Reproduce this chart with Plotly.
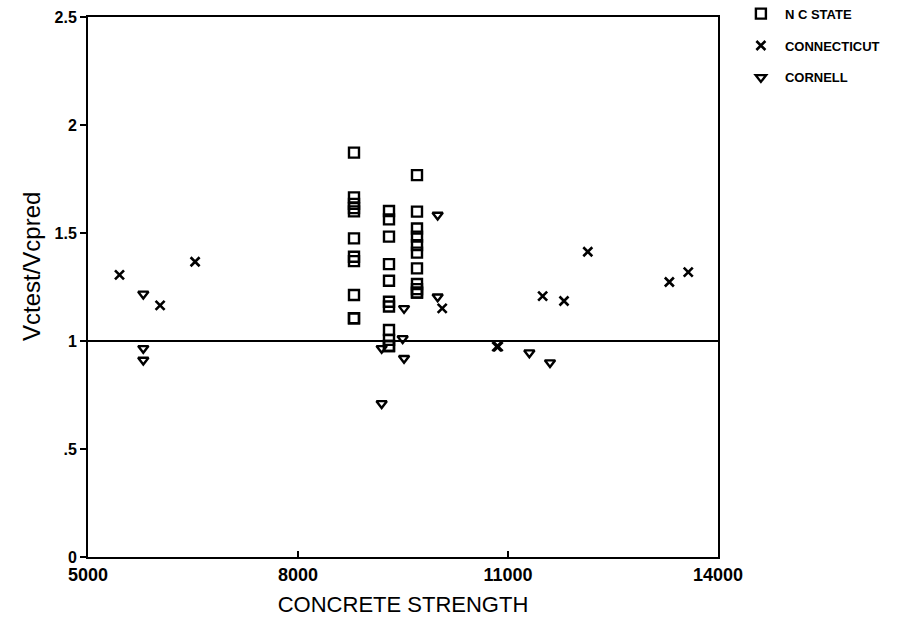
import plotly.graph_objects as go

# N C STATE
ncs_x = [8800]*11 + [9300]*11 + [9700]*11
ncs_y = [1.872, 1.665, 1.635, 1.615, 1.60, 1.475, 1.39, 1.37, 1.213, 1.105, 1.105,
         1.602, 1.563, 1.483, 1.356, 1.279, 1.182, 1.16, 1.051, 1.005, 0.977, 0.977,
         1.768, 1.599, 1.521, 1.483, 1.444, 1.409, 1.336, 1.264, 1.24, 1.224, 1.224]
# CONNECTICUT
con_x = [5450, 6030, 6530, 10060, 10840, 10860, 11495, 11800, 12140, 13305, 13575]
con_y = [1.306, 1.165, 1.367, 1.151, 0.974, 0.974, 1.208, 1.185, 1.413, 1.273, 1.319]
# CORNELL
cor_x = [5790, 5790, 5790, 9195, 9195, 9495, 9515, 9515, 9995, 9995, 11305, 11600]
cor_y = [1.218, 0.966, 0.912, 0.966, 0.711, 1.012, 1.151, 0.920, 1.583, 1.205, 0.946, 0.900]

ref_x = [5000, 14000]
ref_y = [1.0, 1.0]

x_ticks = [5000, 8000, 11000, 14000]
x_ticktext = ["5000", "8000", "11000", "14000"]
y_ticks = [0, 0.5, 1, 1.5, 2, 2.5]
y_ticktext = ["0", ".5", "1", "1.5", "2", "2.5"]

fig = go.Figure()
fig.add_trace(go.Scatter(x=ref_x, y=ref_y, mode="lines", line=dict(color="black", width=2),
                         showlegend=False, hoverinfo="skip"))
fig.add_trace(go.Scatter(x=ncs_x, y=ncs_y, mode="markers", name="N C STATE", legendgroup="a",
                         marker=dict(symbol="square-open", size=10, color="black",
                                     line=dict(width=2.4, color="black"))))
fig.add_trace(go.Scatter(x=con_x, y=con_y, mode="markers", name="CONNECTICUT", legendgroup="b",
                         marker=dict(symbol="x-thin-open", size=9, color="black",
                                     line=dict(width=2.6, color="black"))))
fig.add_trace(go.Scatter(x=cor_x, y=cor_y, mode="markers", name="CORNELL", legendgroup="c",
                         marker=dict(symbol="triangle-down-open", size=9, color="black",
                                     line=dict(width=2.4, color="black"))))

font = "Liberation Sans, Arial, sans-serif"
fig.update_layout(
    width=916, height=619,
    margin=dict(l=88, r=198, t=17, b=62, autoexpand=False),
    plot_bgcolor="white", paper_bgcolor="white",
    font=dict(family=font, color="black", size=14),
    legend=dict(x=1.03, y=1.034, xanchor="left", yanchor="top",
                font=dict(size=13, family=font, color="black", weight="bold"),
                bgcolor="rgba(0,0,0,0)", tracegroupgap=12, itemwidth=38),
    xaxis=dict(range=[5000, 14000], tickvals=x_ticks, ticktext=x_ticktext,
               showgrid=False, zeroline=False, showline=True, linecolor="black", linewidth=2,
               mirror=True, ticks="inside", ticklen=6, tickwidth=1.5, tickcolor="black",
               tickfont=dict(size=18, family=font, weight="bold"),
               title=dict(text="CONCRETE STRENGTH", font=dict(size=22, family=font), standoff=13)),
    yaxis=dict(range=[0, 2.5], tickvals=y_ticks, ticktext=y_ticktext,
               showgrid=False, zeroline=False, showline=True, linecolor="black", linewidth=2,
               mirror=True, ticks="outside", ticklen=6, tickwidth=1.5, tickcolor="black",
               tickfont=dict(size=16, family=font, weight="bold")),
    annotations=[dict(text="Vctest/Vcpred", textangle=-90, xref="paper", yref="paper",
                      x=(31 - 88) / 630, y=(557 - 267) / 540, xanchor="center", yanchor="middle",
                      showarrow=False, font=dict(size=24, family=font, color="black"))],
)

fig.write_html("out.html")
